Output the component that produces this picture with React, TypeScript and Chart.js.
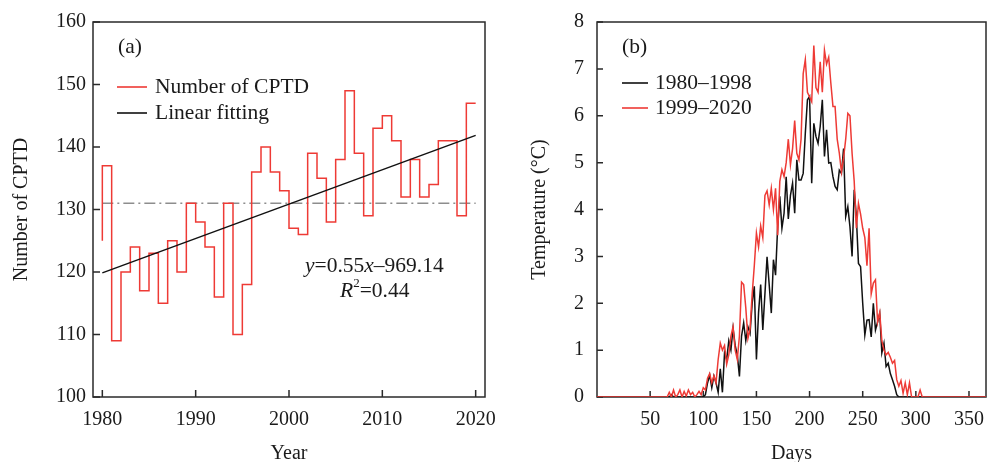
import React, { useEffect, useRef } from "react";
import { Chart, registerables } from "chart.js";

Chart.register(...registerables);

// ---------------- Data: panel (a) ----------------
const YEARS = [
  1980, 1981, 1982, 1983, 1984, 1985, 1986, 1987, 1988, 1989,
  1990, 1991, 1992, 1993, 1994, 1995, 1996, 1997, 1998, 1999,
  2000, 2001, 2002, 2003, 2004, 2005, 2006, 2007, 2008, 2009,
  2010, 2011, 2012, 2013, 2014, 2015, 2016, 2017, 2018, 2019, 2020,
];
const CPTD = [
  125, 137, 109, 120, 124, 117, 123, 115, 125, 120,
  131, 128, 124, 116, 131, 110, 118, 136, 140, 136,
  133, 127, 126, 139, 135, 128, 138, 149, 139, 129,
  143, 145, 141, 132, 138, 132, 134, 141, 141, 129, 147,
];
const FIT_YEARS = [1980, 2020];
const FIT_VALUES = [119.86, 141.86];
const MEAN_YEARS = [1980, 2020];
const MEAN_VALUES = [131, 131];
const A_X_TICKS = [1980, 1990, 2000, 2010, 2020];
const A_Y_TICKS = [100, 110, 120, 130, 140, 150, 160];

// ---------------- Data: panel (b) ----------------
const DAY_START = 60;
const DAY_STEP = 2;
const ZERO_DAYS = [0, 366];
const T_1980_1998 = [
  0, 0, 0, 0, 0, 0.05, 0, 0, 0, 0,
  0, 0, 0, 0, 0, 0, 0, 0, 0, 0,
  0, 0.05, 0.3, 0.47, 0.2, 0.45, 0.3, 0.1, 0.6, 0.1,
  0.94, 0.8, 1.2, 1.0, 1.47, 1.1, 0.9, 0.44, 1.3, 1.58,
  1.2, 1.5, 1.36, 2.0, 2.36, 0.8, 1.8, 2.4, 1.43, 2.2,
  2.99, 2.4, 1.79, 2.93, 2.6, 3.64, 4.28, 3.6, 3.92, 4.7,
  3.8, 4.3, 4.56, 3.92, 5.06, 4.63, 4.63, 4.77, 5.63, 6.34,
  6.41, 4.56, 5.84, 5.56, 5.41, 5.77, 6.34, 5.13, 5.7, 4.99,
  5.0, 4.7, 4.49, 4.42, 4.84, 4.77, 5.3, 3.85, 4.06, 3.63,
  3.0, 4.42, 3.85, 2.85, 2.78, 2.0, 1.32, 1.64, 1.65, 1.28,
  2.0, 1.43, 1.6, 1.78, 0.94, 1.15, 0.65, 0.72, 0.5, 0.37,
  0.23, 0.05, 0, 0, 0, 0, 0, 0, 0, 0,
  0, 0, 0, 0, 0, 0,
];
const T_1999_2020 = [
  0, 0, 0, 0, 0.1, 0, 0.15, 0, 0.05, 0.15,
  0, 0.12, 0.02, 0.15, 0.05, 0.1, 0, 0.05, 0.12, 0.05,
  0.2, 0.15, 0.4, 0.5, 0.3, 0.45, 0.3, 0.8, 1.15, 1.0,
  1.1, 0.7, 0.9, 1.3, 1.5, 1.0, 0.8, 1.3, 2.45, 2.4,
  1.9, 1.25, 1.45, 2.2, 2.8, 3.5, 3.2, 3.65, 3.4, 4.3,
  4.4, 4.1, 4.45, 4.0, 4.45, 3.45, 4.6, 4.85, 4.7, 5.0,
  5.5, 4.95, 5.3, 5.9, 5.2, 5.06, 5.5, 6.9, 7.2, 6.5,
  6.4, 6.3, 7.5, 6.6, 6.5, 7.15, 6.5, 7.4, 7.1, 7.25,
  6.7, 6.2, 6.2, 5.5, 5.2, 4.8, 5.1, 5.5, 6.05, 6.0,
  5.2, 4.6, 3.6, 4.13, 3.9, 3.6, 3.4, 2.8, 3.6, 2.2,
  2.43, 2.5, 1.6, 1.8, 1.2, 1.0, 0.9, 0.95, 0.85, 0.72,
  0.78, 0.37, 0.23, 0.35, 0.08, 0.3, 0.05, 0.3, 0, 0,
  0, 0, 0.15, 0, 0, 0,
];
const B_X_TICKS = [50, 100, 150, 200, 250, 300, 350];
const B_Y_TICKS = [0, 1, 2, 3, 4, 5, 6, 7, 8];

// ---------------- Styles ----------------
const FONT_FAMILY = "'Liberation Serif', 'Times New Roman', Times, serif";
const FS = 20;
const NOTE_FS = 21.5;
const TEXT = "#1a1a1a";
const RED = "#ee3a35";
const BLACK = "#111111";
const GREY = "#8d8d8d";

function dayPoints(values: number[]) {
  const pts = values.map((v, i) => ({ x: DAY_START + i * DAY_STEP, y: v }));
  return [
    { x: ZERO_DAYS[0], y: 0 },
    ...pts,
    { x: ZERO_DAYS[1], y: 0 },
  ];
}

function pairs(xs: number[], ys: number[]) {
  return xs.map((x, i) => ({ x, y: ys[i] }));
}

type Part = { text: string; italic?: boolean; sup?: boolean };

function drawRich(ctx: CanvasRenderingContext2D, parts: Part[], x: number, y: number) {
  let cx = x;
  for (const p of parts) {
    const size = p.sup ? 13 : NOTE_FS;
    ctx.font = `${p.italic ? "italic " : ""}${size}px ${FONT_FAMILY}`;
    ctx.fillText(p.text, cx, p.sup ? y - 7 : y);
    cx += ctx.measureText(p.text).width;
  }
}

const framePlugin = {
  id: "frame",
  beforeDatasetsDraw(chart: any, _args: any, opts: any) {
    const { ctx, chartArea: a, scales } = chart;
    const len = opts.tickLen || 6;
    ctx.save();
    ctx.strokeStyle = "#2a2a2a";
    ctx.lineWidth = 1.5;
    ctx.strokeRect(a.left, a.top, a.right - a.left, a.bottom - a.top);
    ctx.beginPath();
    scales.x.ticks.forEach((t: any) => {
      const px = scales.x.getPixelForValue(t.value);
      ctx.moveTo(px, a.bottom);
      ctx.lineTo(px, a.bottom - len);
    });
    scales.y.ticks.forEach((t: any) => {
      const py = scales.y.getPixelForValue(t.value);
      ctx.moveTo(a.left, py);
      ctx.lineTo(a.left + len, py);
    });
    ctx.stroke();
    ctx.restore();
  },
};

const notesPlugin = {
  id: "notes",
  afterDraw(chart: any, _args: any, opts: any) {
    const { ctx, chartArea: a } = chart;
    ctx.save();
    ctx.textBaseline = "middle";
    ctx.textAlign = "left";
    ctx.fillStyle = TEXT;
    ctx.font = `${NOTE_FS}px ${FONT_FAMILY}`;
    ctx.fillText(opts.panel, a.left + opts.panelX, a.top + opts.panelY);
    (opts.legend || []).forEach((item: any, i: number) => {
      const ds = chart.data.datasets[item];
      const y = a.top + opts.legendY + i * opts.legendGap;
      ctx.strokeStyle = ds.borderColor;
      ctx.lineWidth = 1.6;
      ctx.beginPath();
      ctx.moveTo(a.left + opts.legendX, y);
      ctx.lineTo(a.left + opts.legendX + opts.legendLen, y);
      ctx.stroke();
      ctx.font = `${NOTE_FS}px ${FONT_FAMILY}`;
      ctx.fillText(ds.label, a.left + opts.legendTextX, y);
    });
    (opts.rich || []).forEach((r: any) => {
      drawRich(ctx, r.parts, a.left + r.x, a.top + r.y);
    });
    ctx.restore();
  },
};

function tickFont() {
  return { family: FONT_FAMILY, size: FS };
}

function xFit(h: number) {
  return (s: any) => {
    s.height = h;
    s.paddingLeft = 0;
    s.paddingRight = 0;
  };
}

function yFit(w: number) {
  return (s: any) => {
    s.width = w;
    s.paddingTop = 0;
    s.paddingBottom = 0;
  };
}

function leftConfig(): any {
  return {
    type: "line",
    data: {
      datasets: [
        {
          label: "Number of CPTD",
          data: pairs(YEARS, CPTD),
          borderColor: RED,
          borderWidth: 1.5,
          stepped: "after",
          pointRadius: 0,
          order: 1,
        },
        {
          label: "Linear fitting",
          data: pairs(FIT_YEARS, FIT_VALUES),
          borderColor: BLACK,
          borderWidth: 1.5,
          pointRadius: 0,
          order: 0,
        },
        {
          label: "Mean",
          data: pairs(MEAN_YEARS, MEAN_VALUES),
          borderColor: GREY,
          borderWidth: 1.5,
          borderDash: [11, 4, 2, 4],
          pointRadius: 0,
          order: 2,
        },
      ],
    },
    options: {
      responsive: false,
      animation: false,
      devicePixelRatio: 1,
      layout: { padding: { top: 22, right: 10, left: 0, bottom: 0 } },
      plugins: {
        legend: { display: false },
        tooltip: { enabled: false },
        frame: { tickLen: 7 },
        notes: {
          panel: "(a)",
          panelX: 25,
          panelY: 25,
          legend: [0, 1],
          legendX: 24,
          legendLen: 30,
          legendTextX: 62,
          legendY: 65,
          legendGap: 26,
          rich: [
            {
              x: 212,
              y: 244,
              parts: [
                { text: "y", italic: true },
                { text: "=0.55" },
                { text: "x", italic: true },
                { text: "\u2013969.14" },
              ],
            },
            {
              x: 247,
              y: 269,
              parts: [
                { text: "R", italic: true },
                { text: "2", sup: true },
                { text: "=0.44" },
              ],
            },
          ],
        },
      },
      scales: {
        x: {
          type: "linear",
          min: 1979,
          max: 2021,
          afterBuildTicks: (s: any) => {
            s.ticks = A_X_TICKS.map((v) => ({ value: v }));
          },
          afterFit: xFit(65),
          grid: { display: false, drawTicks: false },
          border: { display: false },
          ticks: {
            font: tickFont(),
            color: TEXT,
            padding: 11,
            maxRotation: 0,
            autoSkip: false,
            callback: (v: any) => String(v),
          },
          title: {
            display: true,
            text: "Year",
            color: TEXT,
            font: { family: FONT_FAMILY, size: FS, lineHeight: 0.8 },
            padding: 0,
          },
        },
        y: {
          type: "linear",
          min: 100,
          max: 160,
          afterBuildTicks: (s: any) => {
            s.ticks = A_Y_TICKS.map((v) => ({ value: v }));
          },
          afterFit: yFit(93),
          grid: { display: false, drawTicks: false },
          border: { display: false },
          ticks: {
            font: tickFont(),
            color: TEXT,
            padding: 7,
            callback: (v: any) => String(v),
          },
          title: {
            display: true,
            text: "Number of CPTD",
            color: TEXT,
            font: { family: FONT_FAMILY, size: FS, lineHeight: 1.2 },
            padding: { top: 10, bottom: 0 },
          },
        },
      },
    },
    plugins: [framePlugin, notesPlugin],
  };
}

function rightConfig(): any {
  return {
    type: "line",
    data: {
      datasets: [
        {
          label: "1980\u20131998",
          data: dayPoints(T_1980_1998),
          borderColor: BLACK,
          borderWidth: 1.5,
          pointRadius: 0,
          order: 1,
        },
        {
          label: "1999\u20132020",
          data: dayPoints(T_1999_2020),
          borderColor: RED,
          borderWidth: 1.5,
          pointRadius: 0,
          order: 0,
        },
      ],
    },
    options: {
      responsive: false,
      animation: false,
      devicePixelRatio: 1,
      layout: { padding: { top: 22, right: 4, left: 0, bottom: 0 } },
      plugins: {
        legend: { display: false },
        tooltip: { enabled: false },
        frame: { tickLen: 6 },
        notes: {
          panel: "(b)",
          panelX: 25,
          panelY: 25,
          legend: [0, 1],
          legendX: 25,
          legendLen: 26,
          legendTextX: 58,
          legendY: 61,
          legendGap: 25,
          rich: [],
        },
      },
      scales: {
        x: {
          type: "linear",
          min: 0,
          max: 366,
          afterBuildTicks: (s: any) => {
            s.ticks = B_X_TICKS.map((v) => ({ value: v }));
          },
          afterFit: xFit(65),
          grid: { display: false, drawTicks: false },
          border: { display: false },
          ticks: {
            font: tickFont(),
            color: TEXT,
            padding: 11,
            maxRotation: 0,
            autoSkip: false,
            callback: (v: any) => String(v),
          },
          title: {
            display: true,
            text: "Days",
            color: TEXT,
            font: { family: FONT_FAMILY, size: FS, lineHeight: 0.8 },
            padding: 0,
          },
        },
        y: {
          type: "linear",
          min: 0,
          max: 8,
          afterBuildTicks: (s: any) => {
            s.ticks = B_Y_TICKS.map((v) => ({ value: v }));
          },
          afterFit: yFit(102),
          grid: { display: false, drawTicks: false },
          border: { display: false },
          ticks: {
            font: tickFont(),
            color: TEXT,
            padding: 13,
            callback: (v: any) => String(v),
          },
          title: {
            display: true,
            text: "Temperature (\u00B0C)",
            color: TEXT,
            font: { family: FONT_FAMILY, size: FS, lineHeight: 1.2 },
            padding: { top: 33, bottom: 0 },
          },
        },
      },
    },
    plugins: [framePlugin, notesPlugin],
  };
}

export default function App() {
  const leftRef = useRef<HTMLCanvasElement>(null);
  const rightRef = useRef<HTMLCanvasElement>(null);

  useEffect(() => {
    const left = new Chart(leftRef.current as HTMLCanvasElement, leftConfig());
    const right = new Chart(rightRef.current as HTMLCanvasElement, rightConfig());
    return () => {
      left.destroy();
      right.destroy();
    };
  }, []);

  return (
    <div
      style={{
        position: "fixed",
        left: 0,
        top: 0,
        width: 990,
        height: 462,
        background: "#ffffff",
        overflow: "hidden",
      }}
    >
      <canvas
        ref={leftRef}
        width={495}
        height={462}
        style={{ position: "absolute", left: 0, top: 0, width: 495, height: 462 }}
      />
      <canvas
        ref={rightRef}
        width={495}
        height={462}
        style={{ position: "absolute", left: 495, top: 0, width: 495, height: 462 }}
      />
    </div>
  );
}
